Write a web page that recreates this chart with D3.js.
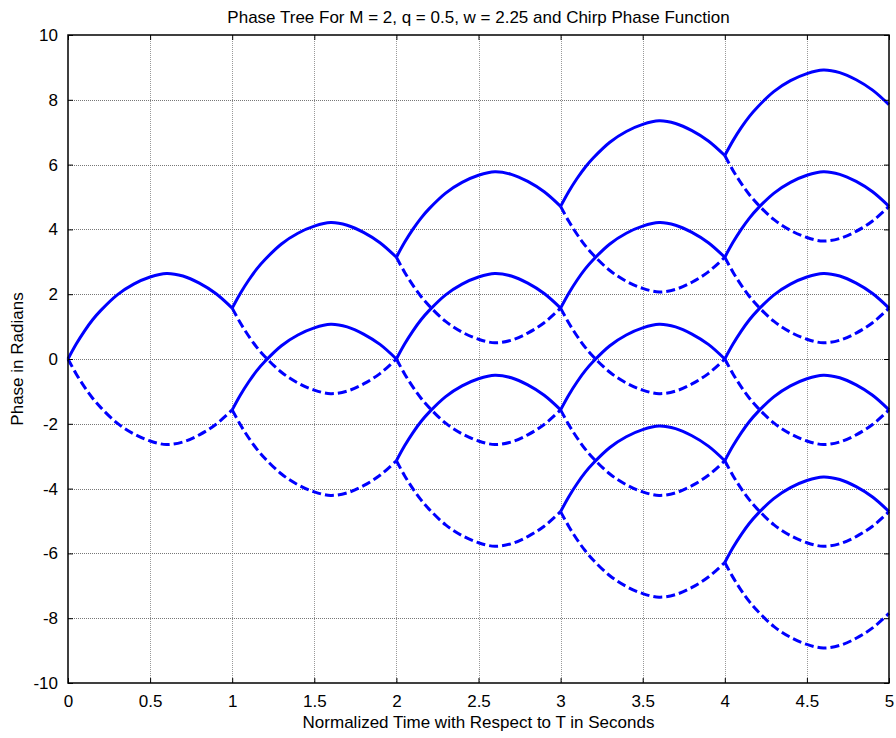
<!DOCTYPE html>
<html>
<head>
<meta charset="utf-8">
<script src="https://cdn.jsdelivr.net/npm/d3@7"></script>
<style>
  body { margin: 0; background: #fff; }
  text { font-family: "Liberation Sans", Arial, sans-serif; fill: #000; }
</style>
</head>
<body>
<div id="chart"></div>
<script>
// Step 1: data
//= ================================
// one branch shape (fraction of a symbol interval -> phase change, going up)
var shapeT = [0, 0.05, 0.1, 0.15, 0.2, 0.3, 0.4, 0.5, 0.6, 0.7, 0.8, 0.9, 1.0];
var shapeUp = [0, 0.46, 0.86, 1.21, 1.50, 1.98, 2.31, 2.53, 2.64, 2.56, 2.34, 2.02, 1.57];

// phase value of every node where branches start, per interval
var nodes0 = [0];
var nodes1 = [1.57, -1.57];
var nodes2 = [3.14, 0, -3.14];
var nodes3 = [4.71, 1.57, -1.57, -4.71];
var nodes4 = [6.28, 3.14, 0, -3.14, -6.28];
var nodeLevels = [nodes0, nodes1, nodes2, nodes3, nodes4];

var xTicks = [0, 0.5, 1, 1.5, 2, 2.5, 3, 3.5, 4, 4.5, 5];
var yTicks = [-10, -8, -6, -4, -2, 0, 2, 4, 6, 8, 10];

var titleText = "Phase Tree For M = 2, q = 0.5, w = 2.25 and Chirp Phase Function";
var xLabel = "Normalized Time with Respect to T in Seconds";
var yLabel = "Phase in Radians";

// Step 2: svg + chart area
//= ================================
var svgWidth = 896;
var svgHeight = 738;
var margin = { top: 35, right: 7, bottom: 55, left: 68 };
var width = svgWidth - margin.left - margin.right;
var height = svgHeight - margin.top - margin.bottom;

var svg = d3.select("#chart")
  .append("svg")
  .attr("width", svgWidth)
  .attr("height", svgHeight);

var chartGroup = svg.append("g")
  .attr("transform", `translate(${margin.left}, ${margin.top})`);

// scales
var xScale = d3.scaleLinear().domain([0, 5]).range([0, width]);
var yScale = d3.scaleLinear().domain([-10, 10]).range([height, 0]);

// grid lines (matlab style dotted)
chartGroup.append("g")
  .selectAll("line")
  .data(xTicks.slice(1, -1))
  .enter()
  .append("line")
  .attr("x1", d => Math.round(xScale(d)) + 0.5)
  .attr("x2", d => Math.round(xScale(d)) + 0.5)
  .attr("y1", 0)
  .attr("y2", height)
  .attr("stroke", "#999")
  .attr("stroke-dasharray", "1,1");

chartGroup.append("g")
  .selectAll("line")
  .data(yTicks.slice(1, -1))
  .enter()
  .append("line")
  .attr("y1", d => Math.round(yScale(d)) + 0.5)
  .attr("y2", d => Math.round(yScale(d)) + 0.5)
  .attr("x1", 0)
  .attr("x2", width)
  .attr("stroke", "#777")
  .attr("stroke-dasharray", "1,1");

// Step 3: the tree branches
//= ================================
var line = d3.line()
  .x(d => xScale(d[0]))
  .y(d => yScale(d[1]))
  .curve(d3.curveCatmullRom);

var segs = [];
nodeLevels.forEach(function(level, k) {
  level.forEach(function(p) {
    segs.push({ dir: -1, pts: shapeT.map((t, i) => [k + t, p - shapeUp[i]]) });
    segs.push({ dir: 1, pts: shapeT.map((t, i) => [k + t, p + shapeUp[i]]) });
  });
});

chartGroup.append("g")
  .selectAll("path")
  .data(segs)
  .enter()
  .append("path")
  .attr("d", d => line(d.pts))
  .attr("fill", "none")
  .attr("stroke", "#0000ff")
  .attr("stroke-width", 3)
  .attr("stroke-dasharray", d => d.dir < 0 ? "9,4" : null);

// Step 4: axes, ticks inside on all four sides
//= ================================
var fmt = d => String(d);
var bottomAxis = d3.axisBottom(xScale).tickValues(xTicks).tickFormat(fmt).tickSizeInner(-5).tickSizeOuter(0).tickPadding(12);
var leftAxis = d3.axisLeft(yScale).tickValues(yTicks).tickFormat(fmt).tickSizeInner(-5).tickSizeOuter(0).tickPadding(10);
var topAxis = d3.axisTop(xScale).tickValues(xTicks).tickSizeInner(-5).tickSizeOuter(0).tickFormat("");
var rightAxis = d3.axisRight(yScale).tickValues(yTicks).tickSizeInner(-5).tickSizeOuter(0).tickFormat("");

var gx = chartGroup.append("g")
  .attr("transform", `translate(0, ${height})`)
  .call(bottomAxis);
var gy = chartGroup.append("g").call(leftAxis);
var gt = chartGroup.append("g").call(topAxis);
var gr = chartGroup.append("g")
  .attr("transform", `translate(${width}, 0)`)
  .call(rightAxis);

[gx, gy, gt, gr].forEach(function(g) {
  g.select(".domain").remove();
  g.selectAll(".tick line").attr("stroke", "#000");
  g.selectAll("text")
    .style("font-family", "'Liberation Sans', Arial, sans-serif")
    .style("font-size", "17px");
});

// box
chartGroup.append("rect")
  .attr("x", 0)
  .attr("y", 0)
  .attr("width", width)
  .attr("height", height)
  .attr("fill", "none")
  .attr("stroke", "#000")
  .attr("stroke-width", 1.5);

// Step 5: title and axis labels
//= ================================
svg.append("text")
  .attr("x", margin.left + width / 2)
  .attr("y", 23)
  .attr("text-anchor", "middle")
  .style("font-size", "17px")
  .text(titleText);

svg.append("text")
  .attr("x", margin.left + width / 2)
  .attr("y", 728)
  .attr("text-anchor", "middle")
  .style("font-size", "17px")
  .text(xLabel);

svg.append("text")
  .attr("transform", "rotate(-90)")
  .attr("x", -(margin.top + height / 2))
  .attr("y", 23)
  .attr("text-anchor", "middle")
  .style("font-size", "17px")
  .text(yLabel);
</script>
</body>
</html>
